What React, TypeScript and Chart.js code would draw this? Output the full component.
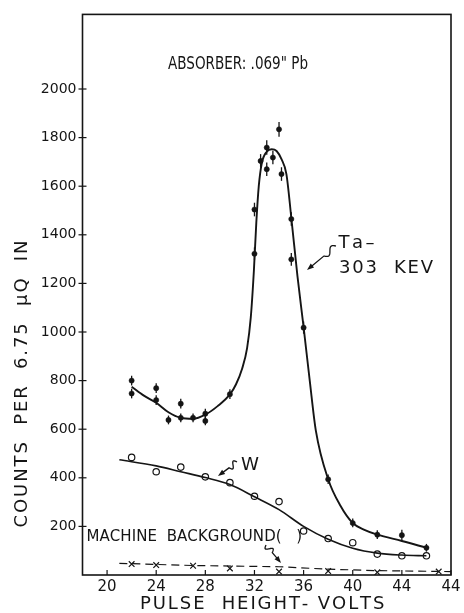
import { useEffect, useRef } from "react";
import { Chart, registerables } from "chart.js";

Chart.register(...registerables);

// ---- data ----
// Ta-303 keV measured points (volts, counts) and error half-widths
const taVolts = [22, 22, 24, 24, 25, 26, 26, 27, 28, 28, 30, 32, 32, 32.5, 33, 33, 33.5, 34, 34.2, 35, 35, 36, 38, 40, 42, 44, 46];
const taCounts = [800, 747, 769, 720, 638, 705, 647, 647, 664, 634, 744, 1504, 1322, 1704, 1759, 1670, 1718, 1834, 1650, 1465, 1299, 1018, 394, 214, 166, 164, 112];
const taErrors = [20, 20, 20, 20, 18, 20, 18, 18, 20, 18, 20, 28, 26, 28, 30, 28, 28, 30, 28, 28, 26, 25, 20, 18, 18, 22, 16];

// Ta fitted (hand-drawn) curve
const taCurveVolts = [22, 23, 24, 25, 26, 27, 28, 29, 30, 30.5, 31, 31.4, 31.7, 31.95, 32.15, 32.35, 32.6, 33, 33.4, 33.8, 34.2, 34.6, 35, 35.5, 36, 36.5, 37, 38, 39, 40, 41, 42, 44, 46];
const taCurveCounts = [775, 738, 709, 670, 647, 643, 660, 695, 743, 785, 850, 934, 1060, 1250, 1450, 1600, 1695, 1742, 1752, 1745, 1711, 1650, 1470, 1230, 1020, 800, 593, 394, 285, 214, 185, 166, 140, 112];

// W points (open circles)
const wVolts = [22, 24, 26, 28, 30, 32, 34, 36, 38, 40, 42, 44, 46];
const wCounts = [484, 425, 444, 404, 380, 324, 302, 181, 150, 133, 86, 79, 79];

// W fitted curve
const wCurveVolts = [21, 24, 26, 28, 30, 32, 34, 36, 38, 40, 42, 44, 46];
const wCurveCounts = [474, 449, 425, 401, 372, 322, 269, 200, 147, 110, 90, 82, 79];

// Machine background points (x marks) and dashed line
const bgVolts = [22, 24, 27, 30, 34, 38, 42, 47];
const bgCounts = [45, 41, 38, 27, 14, 16, 11, 14];
const bgLineVolts = [21, 27, 34, 38, 42, 48];
const bgLineCounts = [48, 39, 34, 24, 18, 14];

// axes
const xTickValues = [20, 24, 28, 32, 36, 40, 44, 48];
const xTickLabels = ["20", "24", "28", "32", "36", "40", "44", "44"];
const yTickValues = [200, 400, 600, 800, 1000, 1200, 1400, 1600, 1800, 2000];

const FONT = "'DejaVu Sans', sans-serif";
const INK = "#151515";

const pts = (xs: number[], ys: number[]) => xs.map((x, i) => ({ x, y: ys[i] }));

function drawText(
  ctx: CanvasRenderingContext2D,
  text: string,
  cx: number,
  cy: number,
  size: number,
  targetW: number,
  mode: "scale" | "space",
  rotate = false
) {
  ctx.save();
  ctx.font = `${size}px ${FONT}`;
  ctx.fillStyle = INK;
  ctx.textAlign = "left";
  ctx.textBaseline = "middle";
  ctx.translate(cx, cy);
  if (rotate) ctx.rotate(-Math.PI / 2);
  const w = ctx.measureText(text).width;
  if (mode === "scale") {
    const sx = targetW / w;
    ctx.scale(sx, 1);
    ctx.fillText(text, -w / 2, 0);
  } else {
    const n = text.length;
    const ls = n > 1 ? (targetW - w) / (n - 1) : 0;
    let x = -targetW / 2;
    for (const ch of text) {
      ctx.fillText(ch, x, 0);
      x += ctx.measureText(ch).width + ls;
    }
  }
  ctx.restore();
}

function squiggleArrow(ctx: CanvasRenderingContext2D, x0: number, y0: number, x1: number, y1: number, amp: number) {
  const dx = x1 - x0, dy = y1 - y0;
  const L = Math.hypot(dx, dy);
  const ux = dx / L, uy = dy / L;
  const nx = -uy, ny = ux;
  ctx.save();
  ctx.strokeStyle = INK;
  ctx.fillStyle = INK;
  ctx.lineWidth = 1.3;
  ctx.beginPath();
  const wave = 0.42;
  const steps = 30;
  for (let i = 0; i <= steps; i++) {
    const t = (i / steps) * wave;
    const s = Math.sin((t / wave) * Math.PI * 2) * amp;
    const px = x0 + dx * t + nx * s;
    const py = y0 + dy * t + ny * s;
    if (i === 0) ctx.moveTo(px, py);
    else ctx.lineTo(px, py);
  }
  ctx.lineTo(x1 - ux * 4, y1 - uy * 4);
  ctx.stroke();
  ctx.beginPath();
  ctx.moveTo(x1, y1);
  ctx.lineTo(x1 - ux * 7 + nx * 2.6, y1 - uy * 7 + ny * 2.6);
  ctx.lineTo(x1 - ux * 7 - nx * 2.6, y1 - uy * 7 - ny * 2.6);
  ctx.closePath();
  ctx.fill();
  ctx.restore();
}

const TA_POINTS = 3;

const figurePlugin = {
  id: "figure",
  afterDatasetsDraw(chart: any) {
    const ctx = chart.ctx as CanvasRenderingContext2D;
    const ys = chart.scales.y;
    const meta = chart.getDatasetMeta(TA_POINTS);
    ctx.save();
    ctx.strokeStyle = INK;
    ctx.lineWidth = 1.3;
    meta.data.forEach((el: any, i: number) => {
      const yTop = ys.getPixelForValue(taCounts[i] + taErrors[i]);
      const yBot = ys.getPixelForValue(taCounts[i] - taErrors[i]);
      ctx.beginPath();
      ctx.moveTo(el.x, yTop);
      ctx.lineTo(el.x, yBot);
      ctx.stroke();
    });
    ctx.restore();
  },
  afterDraw(chart: any) {
    const ctx = chart.ctx as CanvasRenderingContext2D;
    const a = chart.chartArea;
    const xs = chart.scales.x;
    const ys = chart.scales.y;
    ctx.save();
    ctx.strokeStyle = INK;
    ctx.lineWidth = 1.6;
    ctx.strokeRect(a.left, a.top, a.right - a.left, a.bottom - a.top);
    ctx.lineWidth = 1.2;
    yTickValues.forEach((v) => {
      const py = ys.getPixelForValue(v);
      ctx.beginPath();
      ctx.moveTo(a.left - 4, py);
      ctx.lineTo(a.left + 4, py);
      ctx.stroke();
    });
    xTickValues.forEach((v) => {
      const px = xs.getPixelForValue(v);
      ctx.beginPath();
      ctx.moveTo(px, a.bottom);
      ctx.lineTo(px, a.bottom - 5);
      ctx.stroke();
    });
    ctx.restore();

    drawText(ctx, "ABSORBER: .069\" Pb", 238, 64, 18, 140, "scale");
    drawText(ctx, "Ta\u2013", 355, 243, 18, 33, "space");
    drawText(ctx, "303  KEV", 386, 268, 18, 94, "space");
    drawText(ctx, "W", 250, 465, 18, 18, "scale");
    drawText(ctx, "MACHINE  BACKGROUND(   )", 194, 537, 15, 215, "space");
    drawText(ctx, "COUNTS  PER  6.75  \u03bcQ  IN", 22, 384, 18, 287, "space", true);
    drawText(ctx, "PULSE  HEIGHT- VOLTS", 260, 604, 18, 240, "space");

    squiggleArrow(ctx, 336, 246, 307, 270, 3);
    squiggleArrow(ctx, 237, 462, 218, 476, 3);
    squiggleArrow(ctx, 266, 545, 281, 563, 3);
  },
};

export default function App() {
  const ref = useRef<HTMLCanvasElement>(null);
  useEffect(() => {
    const canvas = ref.current!;
    const chart = new Chart(canvas, {
      type: "scatter",
      data: {
        datasets: [
          {
            data: pts(taCurveVolts, taCurveCounts),
            showLine: true,
            borderColor: INK,
            borderWidth: 1.9,
            pointRadius: 0,
            cubicInterpolationMode: "monotone",
          },
          {
            data: pts(wCurveVolts, wCurveCounts),
            showLine: true,
            borderColor: INK,
            borderWidth: 1.6,
            pointRadius: 0,
            cubicInterpolationMode: "monotone",
          },
          {
            data: pts(bgLineVolts, bgLineCounts),
            showLine: true,
            borderColor: INK,
            borderWidth: 1.2,
            borderDash: [8, 5],
            pointRadius: 0,
            tension: 0,
          },
          {
            data: pts(taVolts, taCounts),
            showLine: false,
            pointStyle: "circle",
            pointRadius: 2.6,
            backgroundColor: INK,
            borderColor: INK,
            borderWidth: 0.5,
          },
          {
            data: pts(wVolts, wCounts),
            showLine: false,
            pointStyle: "circle",
            pointRadius: 3.2,
            backgroundColor: "#fff",
            borderColor: INK,
            borderWidth: 1.2,
          },
          {
            data: pts(bgVolts, bgCounts),
            showLine: false,
            pointStyle: "crossRot",
            pointRadius: 4,
            borderColor: INK,
            borderWidth: 1.2,
          },
        ],
      } as any,
      options: {
        responsive: false,
        animation: false,
        devicePixelRatio: 1,
        layout: { padding: { top: 11, right: 13, left: 0, bottom: 0 } },
        plugins: { legend: { display: false }, tooltip: { enabled: false } },
        scales: {
          x: {
            type: "linear",
            min: 18,
            max: 48,
            afterBuildTicks: (s: any) => {
              s.ticks = xTickValues.map((v) => ({ value: v }));
            },
            afterFit: (s: any) => {
              s.height = 38;
            },
            ticks: {
              autoSkip: false,
              maxRotation: 0,
              padding: 3,
              color: INK,
              font: { family: FONT, size: 15 },
              callback: (v: any) => xTickLabels[xTickValues.indexOf(Number(v))] ?? "",
            },
            grid: { display: false, drawTicks: false },
            border: { display: false },
          },
          y: {
            type: "linear",
            min: 0,
            max: 2307,
            afterBuildTicks: (s: any) => {
              s.ticks = yTickValues.map((v) => ({ value: v }));
            },
            afterFit: (s: any) => {
              s.width = 82.5;
            },
            ticks: {
              autoSkip: false,
              padding: 6,
              color: INK,
              font: { family: FONT, size: 14 },
              callback: (v: any) => String(v),
            },
            grid: { display: false, drawTicks: false },
            border: { display: false },
          },
        },
      },
      plugins: [figurePlugin],
    });
    return () => chart.destroy();
  }, []);
  return (
    <div style={{ position: "absolute", left: 0, top: 0, width: 464, height: 613, background: "#fff" }}>
      <canvas ref={ref} width={464} height={613} style={{ display: "block", width: 464, height: 613 }} />
    </div>
  );
}
